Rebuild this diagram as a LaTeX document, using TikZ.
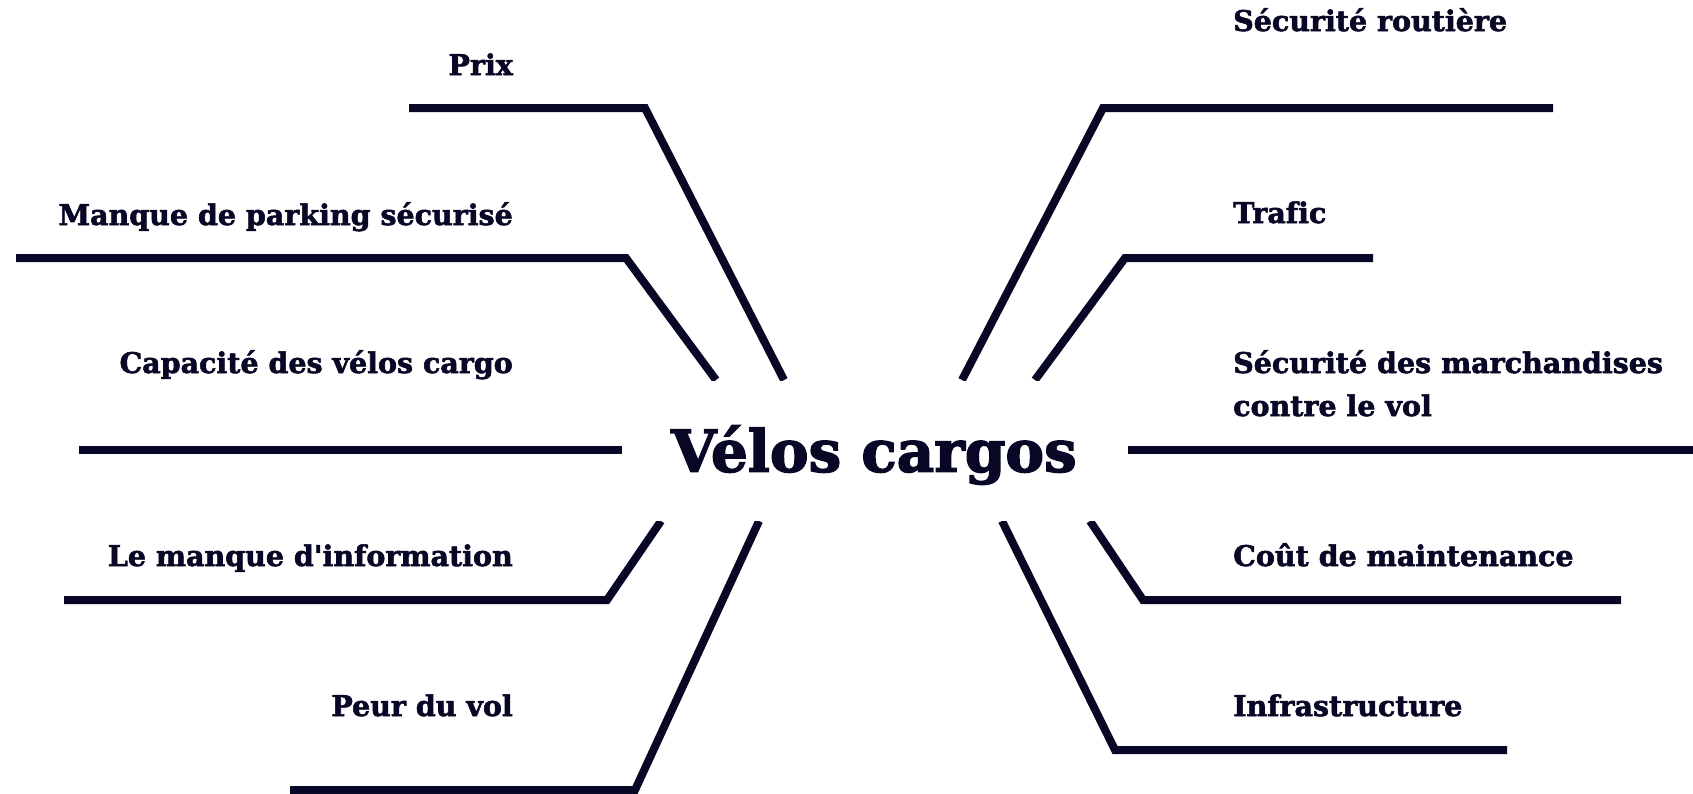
\documentclass[tikz,border=0pt]{standalone}
\usepackage{fontspec}
\newfontfamily\labfont{DejaVu Serif}[Ligatures=NoCommon, FakeBold=2]
\newfontfamily\titfont{DejaVu Serif}[Ligatures=NoCommon, FakeBold=2.5]
\definecolor{navy}{RGB}{8,8,38}
\begin{document}
\begin{tikzpicture}[x=1pt,y=-1pt,
  branch/.style={draw=navy,line width=8pt,line cap=butt,line join=miter},
  lbl/.style={text=navy,font=\labfont\fontsize{28.5}{43}\selectfont\bfseries,inner sep=0pt},
  lleft/.style={lbl,anchor=base east},
  lright/.style={lbl,anchor=base west,align=left},
  title/.style={text=navy,font=\titfont\fontsize{58}{60}\selectfont\bfseries,inner sep=0pt}]
\useasboundingbox (0,0) rectangle (1693,793);
\fill[white] (0,0) rectangle (1693,793);

% centre
\node[title] (t) at (874,455) {Vélos cargos};

% labels left
\node[lleft] (prix) at (513,75) {Prix};
\node[lleft] (park) at (513,225) {Manque de parking sécurisé};
\node[lleft] (capa) at (513,373) {Capacité des vélos cargo};
\node[lleft] (info) at (513,566) {Le manque d'information};
\node[lleft] (peur) at (513,716) {Peur du vol};
% labels right
\node[lright] (secu) at (1233,31) {Sécurité routière};
\node[lright] (traf) at (1233,223) {Trafic};
\node[lright] (marc) at (1233,416) {Sécurité des marchandises\\contre le vol};
\node[lright] (cout) at (1233,566) {Coût de maintenance};
\node[lright] (infr) at (1233,716) {Infrastructure};

% branch coordinates
\coordinate (a0) at (784,380); \coordinate (a1) at (645,108); \coordinate (a2) at (409,108);
\coordinate (b0) at (716,380); \coordinate (b1) at (626,258); \coordinate (b2) at (16,258);
\coordinate (c1) at (622,450); \coordinate (c2) at (79,450);
\coordinate (d0) at (661,521); \coordinate (d1) at (607,600); \coordinate (d2) at (64,600);
\coordinate (e0) at (759,521); \coordinate (e1) at (635,790); \coordinate (e2) at (290,790);
\coordinate (f0) at (962,380); \coordinate (f1) at (1103,108); \coordinate (f2) at (1553,108);
\coordinate (g0) at (1035,380); \coordinate (g1) at (1125,258); \coordinate (g2) at (1373,258);
\coordinate (h1) at (1128,450); \coordinate (h2) at (1693,450);
\coordinate (i0) at (1090,521); \coordinate (i1) at (1143,600); \coordinate (i2) at (1621,600);
\coordinate (j0) at (1002,521); \coordinate (j1) at (1115,750); \coordinate (j2) at (1507,750);

\begin{scope}
\clip (0,0) rectangle (1693,380);
\draw[branch] (a0) -- (a1) -- (a2);
\draw[branch] (b0) -- (b1) -- (b2);
\draw[branch] (f0) -- (f1) -- (f2);
\draw[branch] (g0) -- (g1) -- (g2);
\end{scope}
\draw[branch] (c1) -- (c2);
\draw[branch] (h1) -- (h2);
\begin{scope}
\clip (0,521) rectangle (1693,793);
\draw[branch] (d0) -- (d1) -- (d2);
\draw[branch] (e0) -- (e1) -- (e2);
\draw[branch] (i0) -- (i1) -- (i2);
\draw[branch] (j0) -- (j1) -- (j2);
\end{scope}
\end{tikzpicture}
\end{document}
